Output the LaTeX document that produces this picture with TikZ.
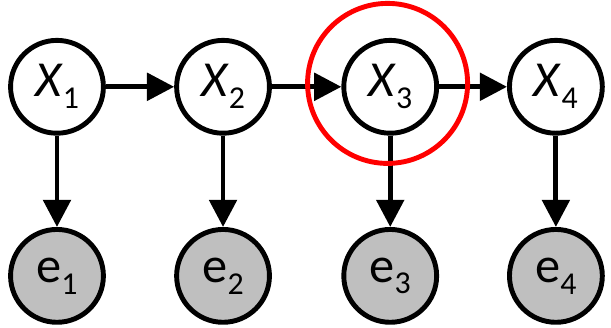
\documentclass[tikz,border=0pt]{standalone}
\usepackage{fontspec}
\setmainfont{Carlito}
\usepackage{tikz}
\usetikzlibrary{arrows.meta,positioning}

\newcommand{\lowsub}[1]{\raisebox{-9pt}{\fontsize{24}{24}\selectfont #1}}

\begin{document}
\begin{tikzpicture}[
  hid/.style={draw, circle, line width=3.7pt, minimum size=2.46cm, inner sep=0pt, fill=white, font=\fontsize{38}{40}\selectfont},
  ev/.style={hid, fill=black!25},
  link/.style={line width=3.7pt, -{Triangle[length=0.72cm, width=0.72cm]}}
]
\useasboundingbox (0,0) rectangle (16.19,8.69);

\node[hid] (x1) at (1.51, 6.39) {\textit{X}\lowsub{1}};
\node[hid] (x2) at (5.91, 6.39) {\textit{X}\lowsub{2}};
\node[hid] (x3) at (10.34, 6.39) {\textit{X}\lowsub{3}};
\node[hid] (x4) at (14.73, 6.39) {\textit{X}\lowsub{4}};

\node[ev] (e1) at (1.51, 1.38) {e\lowsub{1}};
\node[ev] (e2) at (5.91, 1.38) {e\lowsub{2}};
\node[ev] (e3) at (10.34, 1.38) {e\lowsub{3}};
\node[ev] (e4) at (14.73, 1.38) {e\lowsub{4}};

\draw[link] (x1.east) -- (x2.west);
\draw[link] (x2.east) -- (x3.west);
\draw[link] (x3.east) -- (x4.west);

\draw[link] (x1.south) -- (e1.north);
\draw[link] (x2.south) -- (e2.north);
\draw[link] (x3.south) -- (e3.north);
\draw[link] (x4.south) -- (e4.north);

% highlighted state
\node[draw=red, circle, line width=3.7pt, minimum size=4.24cm, inner sep=0pt] (focus) at (10.27, 6.48) {};
\end{tikzpicture}
\end{document}
